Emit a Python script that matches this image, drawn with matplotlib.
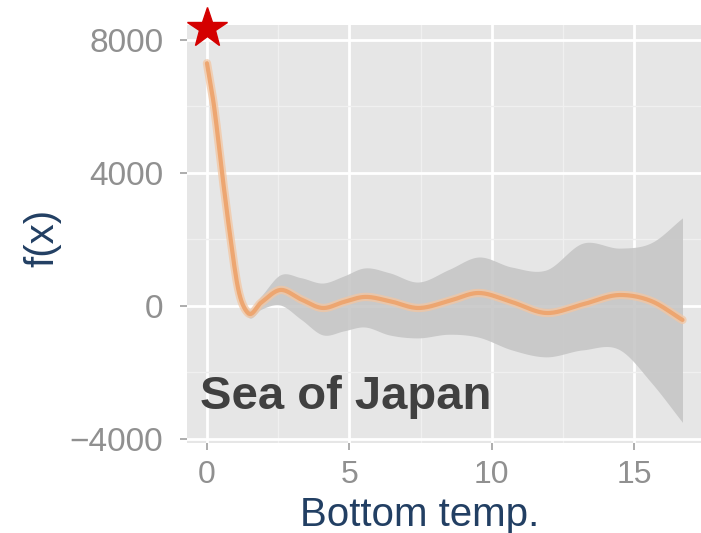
import matplotlib
matplotlib.use("Agg")
import matplotlib.pyplot as plt
import numpy as np
from matplotlib.ticker import MultipleLocator

# smooth term f(x) for bottom temperature, with its confidence band
temp = [0.0, 0.25, 0.53, 0.8, 1.1, 1.44, 1.9, 2.56, 3.3, 4.07, 4.8, 5.5,
        6.4, 7.4, 8.5, 9.5, 10.7, 11.9, 13.2, 14.5, 15.6, 16.7]
fx = [7300, 6000, 4000, 2200, 500, -210, 100, 480, 200, -60, 120, 270,
      150, -60, 150, 390, 120, -210, 50, 330, 150, -420]
upper = [7450, 6150, 4150, 2350, 650, -90, 300, 930, 850, 690, 900, 1140,
         1000, 720, 1100, 1470, 1170, 1080, 1890, 1740, 1900, 2650]
lower = [7150, 5850, 3850, 2050, 350, -330, -100, 30, -400, -870, -750, -630,
         -870, -960, -850, -930, -1320, -1530, -1320, -1320, -2300, -3500]

star_x = [0]
star_y = [8360]

x_ticks = [0, 5, 10, 15]
y_ticks = [-4000, 0, 4000, 8000]
y_tick_labels = ['\u22124000', '0', '4000', '8000']

FONT = ['Liberation Sans', 'DejaVu Sans']


def smooth(xp, yp, xq):
    # cubic Hermite through the given points
    xp = np.asarray(xp, float)
    yp = np.asarray(yp, float)
    m = np.gradient(yp, xp)
    idx = np.clip(np.searchsorted(xp, xq) - 1, 0, len(xp) - 2)
    x0, x1 = xp[idx], xp[idx + 1]
    y0, y1 = yp[idx], yp[idx + 1]
    m0, m1 = m[idx], m[idx + 1]
    h = x1 - x0
    t = (xq - x0) / h
    h00 = 2 * t**3 - 3 * t**2 + 1
    h10 = t**3 - 2 * t**2 + t
    h01 = -2 * t**3 + 3 * t**2
    h11 = t**3 - t**2
    return h00 * y0 + h10 * h * m0 + h01 * y1 + h11 * h * m1


xs = np.linspace(temp[0], temp[-1], 400)
fx_s = smooth(temp, fx, xs)
up_s = smooth(temp, upper, xs)
lo_s = smooth(temp, lower, xs)

fig = plt.figure(figsize=(7.01, 5.33), dpi=100)
ax = fig.add_axes([0.2668, 0.1689, 0.7332, 0.7842])
ax.set_facecolor('#e6e6e6')
for s in ax.spines.values():
    s.set_visible(False)

ax.set_xlim(-0.7, 17.35)
ax.set_ylim(-4120, 8450)

ax.xaxis.set_minor_locator(MultipleLocator(2.5))
ax.yaxis.set_minor_locator(MultipleLocator(2000))
ax.set_xticks(x_ticks)
ax.set_yticks(y_ticks)
ax.set_yticklabels(y_tick_labels)

ax.grid(True, which='major', color='white', linewidth=2.0)
ax.grid(True, which='minor', color='#f0f0f0', linewidth=1.0)
ax.set_axisbelow(True)

ax.tick_params(axis='both', which='major', labelsize=23, labelcolor='#909090',
               color='#a0a0a0', length=5, width=1.2)
ax.tick_params(axis='y', which='major', pad=12, labelsize=24)
ax.tick_params(axis='x', which='major', pad=7)
ax.tick_params(axis='both', which='minor', length=0)

ax.fill_between(xs, lo_s, up_s, color='#c4c4c4', alpha=0.85, linewidth=0, zorder=2)
ax.plot(xs, fx_s, color='#f3c6a2', linewidth=6, alpha=0.75, zorder=3,
        solid_capstyle='round')
ax.plot(xs, fx_s, color='#eda671', linewidth=3, zorder=4, solid_capstyle='round')

ax.plot(star_x, star_y, marker='*', color='#d40000', markersize=30,
        linestyle='none', clip_on=False, zorder=5)

ax.text(0.025, 0.082, 'Sea of Japan', transform=ax.transAxes,
        fontsize=34, fontweight='bold', color='#404040',
        family=FONT, va='baseline', ha='left', zorder=6)

ax.set_xlabel('Bottom temp.', fontsize=29, color='#223f63', family=FONT)
ax.xaxis.label.set_va('baseline')
ax.xaxis.set_label_coords(0.453, -0.199)
ax.set_ylabel('f(x)', fontsize=29, color='#223f63', family=FONT)
ax.yaxis.label.set_va('center')
ax.yaxis.set_label_coords(-0.282, 0.49)

for lab in ax.get_xticklabels() + ax.get_yticklabels():
    lab.set_family(FONT)

fig.savefig('out.png', dpi=100)
